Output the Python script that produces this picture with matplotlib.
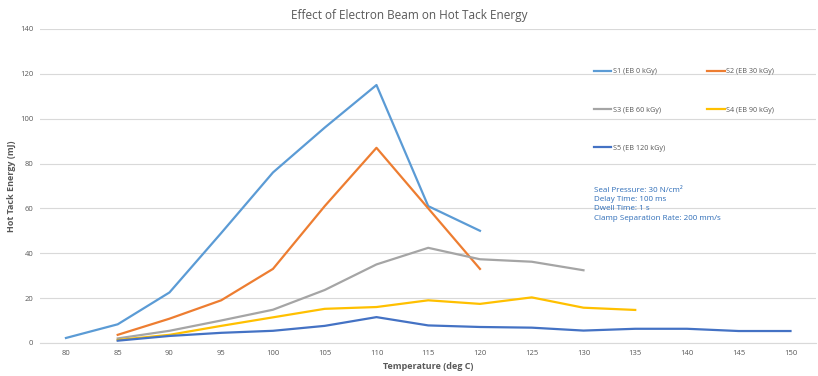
import matplotlib.pyplot as plt

plt.rcParams['font.family'] = ['Open Sans', 'DejaVu Sans']

temps = [80, 85, 90, 95, 100, 105, 110, 115, 120, 125, 130, 135, 140, 145, 150]

s1_temp = [80, 85, 90, 95, 100, 105, 110, 115, 120]
s1 = [2.2, 8.3, 22.5, 49, 76, 96, 115, 61, 50]

s2_temp = [85, 90, 95, 100, 105, 110, 115, 120]
s2 = [3.6, 10.8, 19, 33, 61, 87, 60, 33]

s3_temp = [85, 90, 95, 100, 105, 110, 115, 120, 125, 130]
s3 = [2.0, 5.4, 10, 14.8, 23.6, 35, 42.4, 37.3, 36.2, 32.4]

s4_temp = [85, 90, 95, 100, 105, 110, 115, 120, 125, 130, 135]
s4 = [1.3, 3.6, 7.6, 11.4, 15.2, 16, 19, 17.4, 20.3, 15.7, 14.7]

s5_temp = temps[1:]
s5 = [1.0, 3.1, 4.5, 5.4, 7.6, 11.5, 7.8, 7.1, 6.8, 5.5, 6.3, 6.3, 5.3, 5.3]

labels = ['S1 (EB 0 kGy)', 'S2 (EB 30 kGy)', 'S3 (EB 60 kGy)',
          'S4 (EB 90 kGy)', 'S5 (EB 120 kGy)']
colors = ['#5B9BD5', '#ED7D31', '#A5A5A5', '#FFC000', '#4472C4']

notes = ['Seal Pressure: 30 N/cm\u00b2', 'Delay Time: 100 ms',
         'Dwell Time: 1 s', 'Clamp Separation Rate: 200 mm/s']

fig = plt.figure(figsize=(8.18, 3.76), dpi=100)
ax = fig.add_axes([0.049, 0.088, 0.949, 0.835])

series = [(s1_temp, s1), (s2_temp, s2), (s3_temp, s3), (s4_temp, s4), (s5_temp, s5)]
lines = []
for (x, y), c, lab in zip(series, colors, labels):
    ln, = ax.plot(x, y, color=c, lw=1.6, label=lab, solid_joinstyle='round')
    lines.append(ln)

ax.set_xlim(77.5, 152.5)
ax.set_ylim(0, 140)
ax.set_xticks(temps)
ax.set_yticks(range(0, 141, 20))
ax.tick_params(length=0, labelsize=5.5, labelcolor='#595959', pad=5)
ax.grid(axis='y', color='#D9D9D9', lw=0.8)
ax.set_axisbelow(True)
for side in ['top', 'right', 'left']:
    ax.spines[side].set_visible(False)
ax.spines['bottom'].set_color('#D9D9D9')

ax.set_xlabel('Temperature (deg C)', fontsize=6.5, fontweight='bold',
              color='#595959', labelpad=4)
ax.set_ylabel('Hot Tack Energy (mJ)', fontsize=6.5, fontweight='bold',
              color='#595959', labelpad=3)
fig.suptitle('Effect of Electron Beam on Hot Tack Energy', fontsize=8.5,
             color='#595959', y=0.975)

# row-major legend: two columns, three rows
order = [0, 2, 4, 1, 3]
leg = ax.legend([lines[i] for i in order], [labels[i] for i in order],
                ncol=2, loc='upper left', bbox_to_anchor=(0.705, 0.895),
                frameon=False, fontsize=5.2, labelcolor='#595959',
                handlelength=2.4, handletextpad=0.2, columnspacing=5.9,
                labelspacing=4.3)

ax.text(0.714, 0.497, '\n'.join(notes), transform=ax.transAxes,
        fontsize=5.8, color='#2E6DB8', va='top', linespacing=1.45)

fig.savefig('out.png', dpi=100)
